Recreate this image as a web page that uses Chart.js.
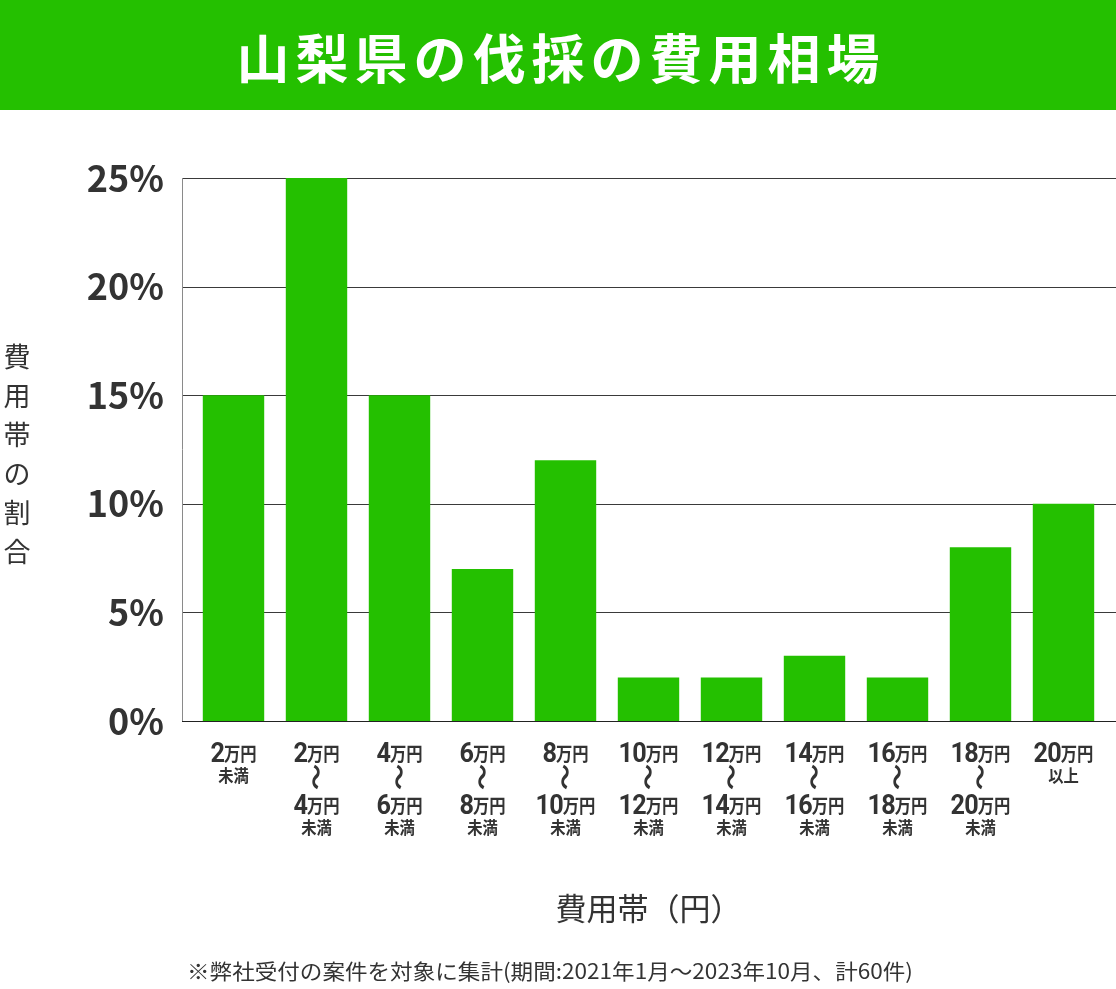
<!DOCTYPE html>
<html lang="ja">
<head>
<meta charset="utf-8">
<script src="https://cdn.jsdelivr.net/npm/chart.js"></script>
<style>
  html, body { margin: 0; padding: 0; background: #fff; }
  #wrap { width: 1116px; height: 989px; }
</style>
</head>
<body>
<div id="wrap"><canvas id="costChart" width="1116" height="989"></canvas></div>
<script>
// data
const chartTitle = '山梨県の伐採の費用相場';
const categories = ['2万円未満', '2万円〜4万円未満', '4万円〜6万円未満', '6万円〜8万円未満', '8万円〜10万円未満',
  '10万円〜12万円未満', '12万円〜14万円未満', '14万円〜16万円未満', '16万円〜18万円未満', '18万円〜20万円未満', '20万円以上'];
const shares = [15, 25, 15, 7, 12, 2, 2, 3, 2, 8, 10];
const yTickValues = [0, 5, 10, 15, 20, 25];
const yAxisLabel = '費用帯の割合';
const xAxisLabel = '費用帯（円）';
const footNote = '※弊社受付の案件を対象に集計(期間:2021年1月～2023年10月、計60件)';

const GREEN = '#24c000';
const INK = '#333333';
const JP = '"Noto Sans CJK JP", "Noto Sans", sans-serif';

// banner, grid lines, axis texts
const decorations = {
  id: 'decorations',
  beforeDraw(chart) {
    const { ctx, width } = chart;
    ctx.save();
    ctx.fillStyle = GREEN;
    ctx.fillRect(0, 0, width, 110);
    ctx.fillStyle = '#fff';
    ctx.font = '700 53px ' + JP;
    ctx.letterSpacing = '6px';
    ctx.textAlign = 'center';
    ctx.textBaseline = 'middle';
    ctx.fillText(chartTitle, width / 2 + 3, 59);
    ctx.restore();
  },
  beforeDatasetsDraw(chart) {
    const { ctx, chartArea } = chart;
    const y = chart.scales.y;
    const left = chartArea.left - 10, right = chart.width;
    ctx.save();
    ctx.lineWidth = 1;
    y.ticks.forEach(t => {
      const py = Math.round(y.getPixelForValue(t.value)) + 0.5;
      ctx.strokeStyle = t.value === 0 ? '#222' : '#3a3a3a';
      ctx.beginPath();
      ctx.moveTo(left, py);
      ctx.lineTo(right, py);
      ctx.stroke();
    });
    ctx.strokeStyle = '#8a8a8a';
    ctx.beginPath();
    ctx.moveTo(left + 0.5, y.getPixelForValue(25));
    ctx.lineTo(left + 0.5, y.getPixelForValue(0));
    ctx.stroke();
    ctx.restore();
  },
  afterDraw(chart) {
    const { ctx, chartArea } = chart;
    const x = chart.scales.x;
    const base = chartArea.bottom;
    ctx.save();
    ctx.fillStyle = INK;

    // category labels
    const numFont = '700 28px Roboto, sans-serif';
    const unitFont = '700 19px ' + JP;
    const numSx = 0.9, unitSx = 0.86;
    const drawAmount = (part, cx, baseline) => {
      const m = part.match(/^(\d+)(万円)/);
      ctx.font = numFont;
      ctx.letterSpacing = '-1px';
      const wNum = ctx.measureText(m[1]).width * numSx;
      ctx.font = unitFont;
      ctx.letterSpacing = '0px';
      const wUnit = ctx.measureText(m[2]).width * unitSx;
      const start = cx - (wNum + wUnit) / 2;
      ctx.save();
      ctx.translate(start, baseline);
      ctx.scale(numSx, 1);
      ctx.font = numFont;
      ctx.letterSpacing = '-1px';
      ctx.textAlign = 'left';
      ctx.textBaseline = 'alphabetic';
      ctx.fillText(m[1], 0, 0);
      ctx.restore();
      ctx.save();
      ctx.translate(start + wNum, baseline + 1);
      ctx.scale(unitSx, 1);
      ctx.font = unitFont;
      ctx.textAlign = 'left';
      ctx.textBaseline = 'ideographic';
      ctx.fillText(m[2], 0, 0);
      ctx.restore();
    };
    const drawSuffix = (txt, cx, baseline) => {
      ctx.save();
      ctx.translate(cx, baseline);
      ctx.scale(0.9, 1);
      ctx.font = '700 17px ' + JP;
      ctx.textAlign = 'center';
      ctx.textBaseline = 'ideographic';
      ctx.fillText(txt, 0, 0);
      ctx.restore();
    };
    const drawWave = (cx, cy) => {
      ctx.save();
      ctx.translate(cx, cy);
      ctx.rotate(Math.PI / 2);
      ctx.scale(1.1, 0.9);
      ctx.font = '700 24px ' + JP;
      ctx.textAlign = 'center';
      ctx.textBaseline = 'middle';
      ctx.fillText('〜', 0, 0);
      ctx.restore();
    };
    categories.forEach((label, i) => {
      const cx = x.getPixelForValue(i);
      const parts = label.split('〜');
      const suffix = label.endsWith('未満') ? '未満' : '以上';
      drawAmount(parts[0], cx, base + 41);
      if (parts.length > 1) {
        drawWave(cx, base + 56);
        drawAmount(parts[1], cx, base + 93);
        drawSuffix(suffix, cx, base + 115);
      } else {
        drawSuffix(suffix, cx, base + 63);
      }
    });

    // y axis label, stacked vertically
    ctx.font = '400 27px ' + JP;
    ctx.textAlign = 'center';
    ctx.textBaseline = 'middle';
    [...yAxisLabel].forEach((ch, k) => ctx.fillText(ch, 17, 357 + k * 39));

    // x axis label
    ctx.font = '400 31px ' + JP;
    ctx.fillText(xAxisLabel, (chartArea.left + chartArea.right) / 2, 908);

    // footnote, fitted to the reference width
    ctx.font = '400 21px ' + JP;
    const fw = ctx.measureText(footNote).width;
    ctx.save();
    ctx.translate(550, 971);
    ctx.scale(726 / fw, 1);
    ctx.fillText(footNote, 0, 0);
    ctx.restore();
    ctx.restore();
  }
};

const ctx = document.getElementById('costChart').getContext('2d');
new Chart(ctx, {
  type: 'bar',
  data: {
    labels: categories,
    datasets: [{
      data: shares,
      backgroundColor: GREEN,
      borderWidth: 0,
      barPercentage: 0.74,
      categoryPercentage: 1
    }]
  },
  options: {
    responsive: false,
    animation: false,
    events: [],
    layout: { padding: { top: 178, right: 11, left: 0, bottom: 0 } },
    plugins: {
      legend: { display: false },
      tooltip: { enabled: false },
      title: { display: false }
    },
    scales: {
      x: {
        type: 'category',
        offset: true,
        grid: { display: false },
        border: { display: false },
        ticks: { display: false },
        afterFit(scale) { scale.height = 268; }
      },
      y: {
        min: 0,
        max: 25,
        grid: { display: false },
        border: { display: false },
        afterBuildTicks(scale) { scale.ticks = yTickValues.map(v => ({ value: v })); },
        afterFit(scale) { scale.width = 192; },
        ticks: {
          padding: 20,
          color: INK,
          font: { family: JP, size: 36, weight: '700' },
          callback: v => v + '%'
        }
      }
    }
  },
  plugins: [decorations]
});
</script>
</body>
</html>
